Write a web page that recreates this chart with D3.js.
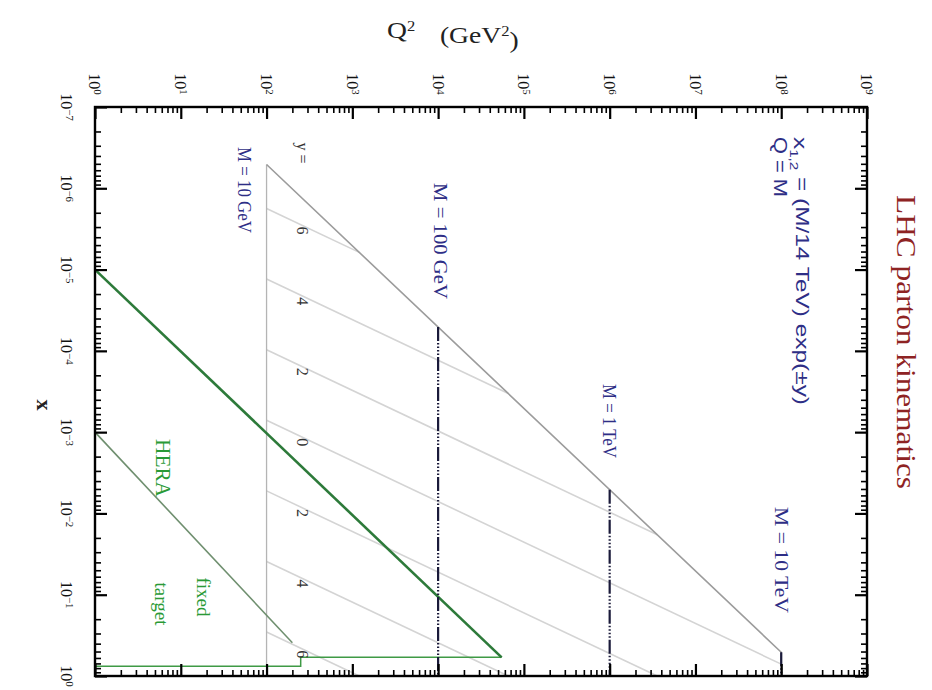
<!DOCTYPE html>
<html>
<head>
<meta charset="utf-8">
<script src="https://cdn.jsdelivr.net/npm/d3@7"></script>
<style>
  html, body { margin: 0; padding: 0; background: #ffffff; }
  svg { display: block; }
</style>
</head>
<body>
<svg id="chart" width="932" height="690"></svg>
<script>
// ---- data ---------------------------------------------------------------
const q2Exponents = [0, 1, 2, 3, 4, 5, 6, 7, 8, 9];          // Q^2 decades (GeV^2)
const xExponents = [-7, -6, -5, -4, -3, -2, -1, 0];          // parton x decades
const sqrtS = 14000;                                          // LHC energy, GeV
const masses = [10, 100, 1000, 10000];                        // M, GeV
const massLabels = ["M = 10 GeV", "M = 100 GeV", "M = 1 TeV", "M = 10 TeV"];
const rapidities = [6, 4, 2, 0, -2, -4, -6];
const rapidityLabels = ["6", "4", "2", "0", "2", "4", "6"];
// HERA reach: kinematic limit and large-x edge, [Q^2, x]
const heraOutline = [[1, 1e-5], [5.5e4, 0.59], [250, 0.59], [250, 0.76], [1, 0.76]];
// fixed-target reach, [Q^2, x]
const fixedTarget = [[1, 1e-3], [200, 0.39]];

// ---- layout -------------------------------------------------------------
const svg = d3.select("#chart");
const frame = { left: 95, right: 867, top: 107, bottom: 676 };
const serif = "'Liberation Serif', 'Times New Roman', serif";
const sans = "'Liberation Sans', Arial, sans-serif";
const ink = "#2e2e86";

// Q^2 runs left to right, x runs top to bottom
const q = d3.scaleLog().domain([1e0, 1e9]).range([frame.left, frame.right]);
const xs = d3.scaleLog().domain([1e-7, 1e0]).range([frame.top, frame.bottom]);
const line = d3.line().x(d => q(d[0])).y(d => xs(d[1]));

const S2 = sqrtS * sqrtS;
const qMin = masses[0] ** 2;
const qMax = masses[masses.length - 1] ** 2;
const xOf = (Q, y) => Math.sqrt(Q) / sqrtS * Math.exp(-y);

const plot = svg.append("g");

// lines of constant rapidity
rapidities.forEach(y => {
  const qEnd = Math.min(qMax, S2 * Math.exp(-2 * Math.abs(y)));
  plot.append("path")
    .attr("d", line([[qMin, xOf(qMin, y)], [qEnd, xOf(qEnd, y)]]))
    .attr("fill", "none").attr("stroke", "#d4d4d4").attr("stroke-width", 1.6);
});

// LHC kinematic boundary
plot.append("path")
  .attr("d", line([[qMin, 1], [qMin, qMin / S2]]))
  .attr("fill", "none").attr("stroke", "#b4b4b4").attr("stroke-width", 1.3);
plot.append("path")
  .attr("d", line([[qMin, qMin / S2], [qMax, qMax / S2], [qMax, 1]]))
  .attr("fill", "none").attr("stroke", "#9c9c9c").attr("stroke-width", 1.6);

// fixed-target and HERA regions
plot.append("path")
  .attr("d", line(fixedTarget))
  .attr("fill", "none").attr("stroke", "#6f8f6f").attr("stroke-width", 1.6);
plot.append("path")
  .attr("d", line(heraOutline.slice(1)))
  .attr("fill", "none").attr("stroke", "#3f9a45").attr("stroke-width", 1.5);
plot.append("path")
  .attr("d", line(heraOutline.slice(0, 2)))
  .attr("fill", "none").attr("stroke", "#2d7a3a").attr("stroke-width", 2.6);

// fixed-mass lines Q = M
masses.slice(1).forEach(M => {
  plot.append("path")
    .attr("d", line([[M * M, M * M / S2], [M * M, 1]]))
    .attr("fill", "none").attr("stroke", "#1a1a3a").attr("stroke-width", 2.2)
    .attr("stroke-dasharray", "14,2,1.5,2,1.5,2,1.5,2,1.5,2");
});

// ---- frame and ticks ----------------------------------------------------
const isDecade = v => Math.abs(Math.log10(v) - Math.round(Math.log10(v))) < 1e-9;
function tickSet(scale, gen, pos, major) {
  const vals = scale.ticks().filter(v => isDecade(v) === major);
  svg.append("g")
    .attr("transform", pos)
    .call(gen(scale).tickValues(vals).tickSize(major ? 12 : 6).tickFormat(""))
    .call(g => g.select(".domain").remove())
    .call(g => g.selectAll("line").attr("stroke", "#000").attr("stroke-width", major ? 2.2 : 1.6));
}
[true, false].forEach(major => {
  tickSet(q, d3.axisBottom, `translate(0,${frame.top})`, major);
  tickSet(q, d3.axisTop, `translate(0,${frame.bottom})`, major);
  tickSet(xs, d3.axisRight, `translate(${frame.left},0)`, major);
  tickSet(xs, d3.axisLeft, `translate(${frame.right},0)`, major);
});
svg.append("rect")
  .attr("x", frame.left).attr("y", frame.top)
  .attr("width", frame.right - frame.left).attr("height", frame.bottom - frame.top)
  .attr("fill", "none").attr("stroke", "#000").attr("stroke-width", 2.4);

// ---- text ---------------------------------------------------------------
// text turned a quarter clockwise, centred on (x, y)
function vtext(x, y, opts = {}) {
  const t = svg.append("text")
    .attr("transform", `translate(${x},${y}) rotate(90)`)
    .attr("text-anchor", opts.anchor || "middle")
    .attr("dy", "0.35em")
    .attr("font-family", opts.family || serif)
    .attr("font-size", opts.size || 15)
    .attr("font-weight", opts.weight || "normal")
    .attr("fill", opts.fill || "#111");
  if (opts.length) t.attr("textLength", opts.length).attr("lengthAdjust", "spacingAndGlyphs");
  return t;
}
function power(t, e) {
  t.append("tspan").text("10");
  t.append("tspan").attr("dy", "-0.45em").attr("font-size", "0.68em").text(e);
}

q2Exponents.forEach(e => power(vtext(q(10 ** e), 84, { size: 16 }), String(e)));
xExponents.forEach(e => power(vtext(67, xs(10 ** e), { size: 16 }), e < 0 ? "\u2212" + (-e) : String(e)));

// axis titles
const qTitle = svg.append("text")
  .attr("transform", "translate(387,38) scale(1.15,1)")
  .attr("font-family", serif).attr("font-size", 24).attr("fill", "#222");
qTitle.append("tspan").attr("x", 0).text("Q");
qTitle.append("tspan").attr("dy", "-0.5em").attr("font-size", "0.6em").text("2");
qTitle.append("tspan").attr("x", 46).attr("dy", "0.5em").text("(GeV");
qTitle.append("tspan").attr("dy", "-0.5em").attr("font-size", "0.6em").text("2");
qTitle.append("tspan").attr("dy", "0.5em").text(")");

vtext(45, 405, { size: 22, weight: "bold", fill: "#222" }).text("x");

vtext(906, 342, { size: 27, fill: "#8e2323", length: 294 }).text("LHC parton kinematics");

// formula note
const note = vtext(800, 137, { anchor: "start", family: sans, size: 18, fill: ink, length: 268 });
note.append("tspan").text("x");
note.append("tspan").attr("dy", "0.3em").attr("font-size", "0.62em").text("1,2");
note.append("tspan").attr("dy", "-0.3em").text(" = (M/14 TeV) exp(\u00b1y)");
vtext(780, 137, { anchor: "start", family: sans, size: 18, fill: ink, length: 60 }).text("Q = M");

// mass labels
const massLabelPos = [[244, 190], [440, 241], [609, 421], [781, 560]];
const massLabelLen = [86, 116, 74, 106];
massLabels.forEach((t, i) =>
  vtext(massLabelPos[i][0], massLabelPos[i][1], { size: 18, fill: ink, length: massLabelLen[i] }).text(t));

// rapidity labels, set on their lines
const qLab = 10 ** 2.42;
vtext(q(qLab), 153, { size: 16, fill: "#333" }).text("y =");
rapidities.forEach((y, i) => {
  vtext(q(qLab), xs(xOf(qLab, y)) + 5, { size: 16, fill: "#333" }).text(rapidityLabels[i]);
});

// experiment labels
const green = "#2a9a36";
vtext(163, 468, { size: 20, fill: green, length: 58 }).text("HERA");
vtext(204, 597, { size: 19, fill: green }).text("fixed");
vtext(162, 604, { size: 19, fill: green }).text("target");
</script>
</body>
</html>
